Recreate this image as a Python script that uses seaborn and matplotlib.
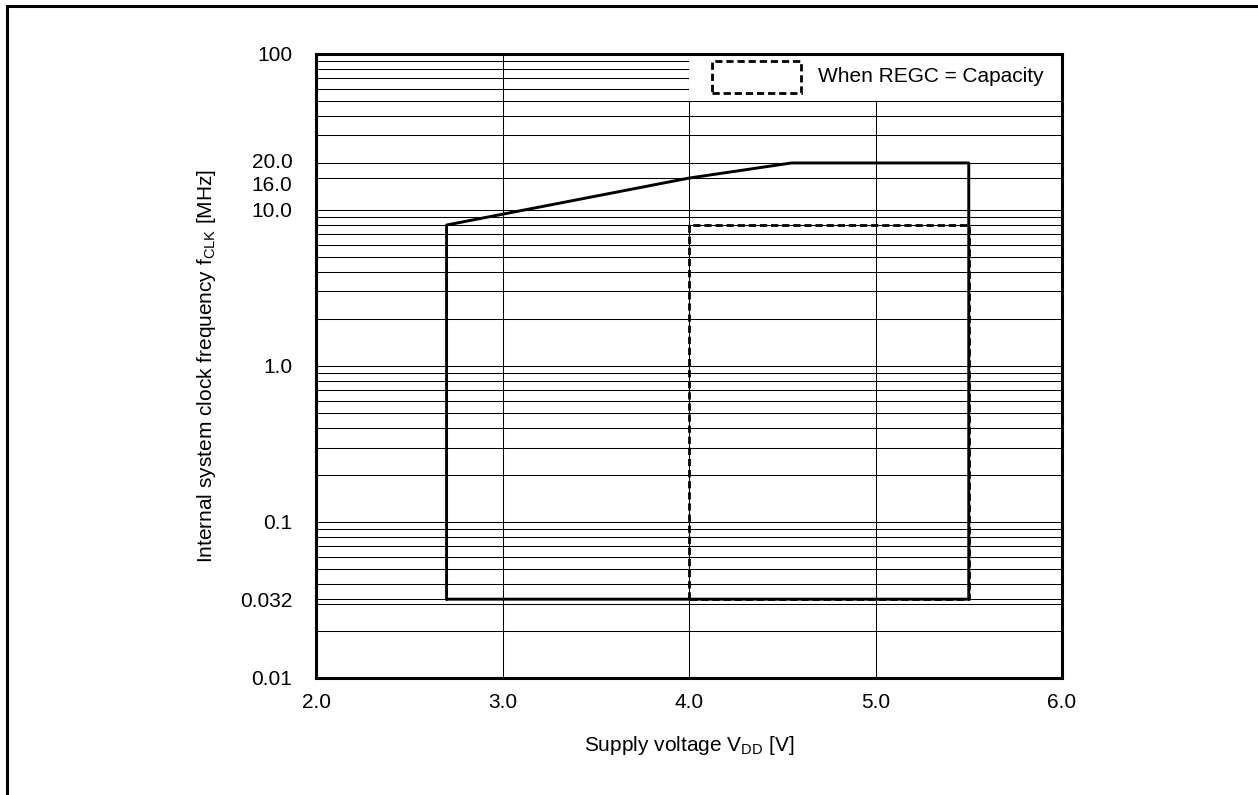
import matplotlib
matplotlib.use("Agg")
import matplotlib.pyplot as plt
import matplotlib.patches as mpatches
import matplotlib.transforms as mtransforms
from matplotlib.ticker import FixedLocator, NullFormatter
import seaborn as sns

sns.set_theme(style="white")
plt.rcParams['font.family'] = ['Liberation Sans', 'DejaVu Sans']
plt.rcParams['mathtext.fontset'] = 'custom'
plt.rcParams['mathtext.rm'] = 'Liberation Sans'

# operating range, regular case (V, MHz)
vdd_normal = [2.7, 2.7, 4.0, 4.55, 5.5, 5.5, 2.7]
fclk_normal = [0.032, 8.0, 16.0, 20.0, 20.0, 0.032, 0.032]

# operating range when REGC = Capacity
vdd_regc = [4.0, 4.0, 5.5, 5.5, 4.0]
fclk_regc = [0.032, 8.0, 8.0, 0.032, 0.032]

x_ticks = [2.0, 3.0, 4.0, 5.0, 6.0]
x_labels = ["2.0", "3.0", "4.0", "5.0", "6.0"]
y_ticks = [0.01, 0.032, 0.1, 1.0, 10.0, 16.0, 20.0, 100.0]
y_labels = ["0.01", "0.032", "0.1", "1.0", "10.0", "16.0", "20.0", "100"]
y_minor = [m * d for d in (0.01, 0.1, 1.0, 10.0) for m in range(2, 10)]

legend_text = "When REGC = Capacity"

fig = plt.figure(figsize=(12.58, 7.95), dpi=100)
ax = fig.add_axes([0.2512, 0.1472, 0.593, 0.785])

dash = (0, (2.6, 1.4))
sns.lineplot(x=vdd_regc, y=fclk_regc, sort=False, estimator=None,
             color="black", linewidth=2.0, linestyle=dash, ax=ax, zorder=2.5)
sns.lineplot(x=vdd_normal, y=fclk_normal, sort=False, estimator=None,
             color="black", linewidth=2.1, ax=ax, zorder=3)

ax.set_yscale("log")
ax.set_xlim(2.0, 6.0)
ax.set_ylim(0.01, 100)

ax.set_xticks(x_ticks)
ax.set_xticklabels(x_labels)
ax.yaxis.set_major_locator(FixedLocator(y_ticks))
ax.set_yticklabels(y_labels)
ax.yaxis.set_minor_locator(FixedLocator(y_minor))
ax.yaxis.set_minor_formatter(NullFormatter())

ax.grid(True, which="both", axis="y", color="black", linewidth=0.75)
ax.grid(True, which="major", axis="x", color="black", linewidth=0.75)
ax.set_axisbelow(True)

ax.tick_params(axis="both", which="both", length=0, labelsize=15, colors="black")
ax.tick_params(axis="y", pad=17)
ax.tick_params(axis="x", pad=11)

# the 20.0 / 16.0 labels sit very close: nudge them apart a little
for lab in ax.get_yticklabels():
    if lab.get_text() == "16.0":
        off = -4
    elif lab.get_text() == "20.0":
        off = 2
    else:
        continue
    lab.set_transform(lab.get_transform() +
                      mtransforms.ScaledTranslation(0, off / 72, fig.dpi_scale_trans))

for sp in ax.spines.values():
    sp.set_visible(True)
    sp.set_color("black")
    sp.set_linewidth(2.2)
    sp.set_zorder(5)

ax.set_xlabel("Supply voltage V$_{\\mathrm{DD}}$ [V]", fontsize=15, labelpad=16, color="black")
ax.set_ylabel("Internal system clock frequency f$_{\\mathrm{CLK}}$ [MHz]", fontsize=15,
              labelpad=16, color="black")

# legend area
ax.add_patch(mpatches.Rectangle((0.5, 0.925), 0.5, 0.075, transform=ax.transAxes,
                                facecolor="white", edgecolor="none", zorder=1.5))
ax.add_patch(mpatches.Rectangle((0.531, 0.9375), 0.119, 0.051, transform=ax.transAxes,
                                fill=False, edgecolor="black", linewidth=2.0,
                                linestyle=dash, zorder=4))
ax.text(0.673, 0.963, legend_text, transform=ax.transAxes, fontsize=15,
        va="center", ha="left", color="black", zorder=4)

# page frame
fig.add_artist(mpatches.Rectangle((0.0056, -0.2), 1.2, 1.1925, transform=fig.transFigure,
                                  fill=False, edgecolor="black", linewidth=2.2))

fig.savefig("out.png", dpi=100)
